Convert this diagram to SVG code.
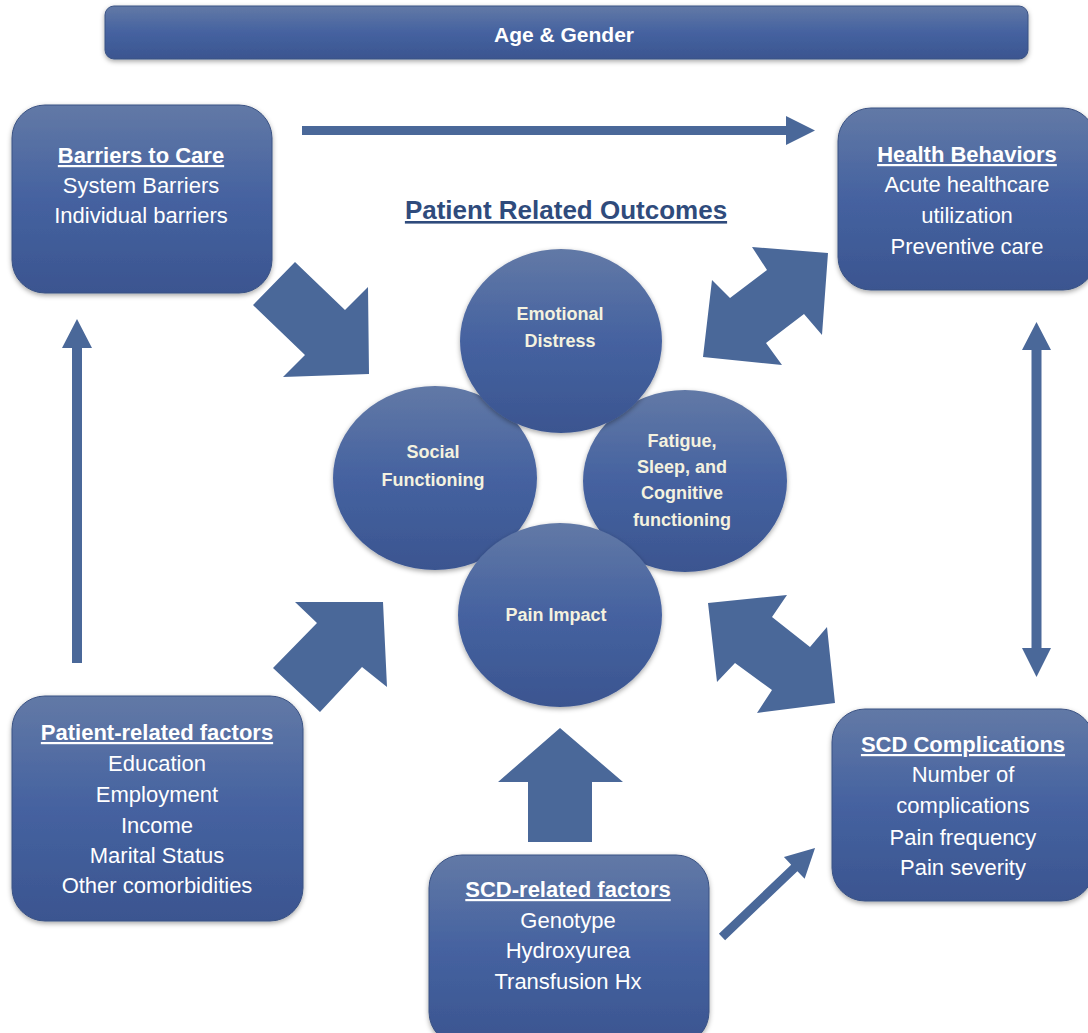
<svg xmlns="http://www.w3.org/2000/svg" width="1088" height="1033" viewBox="0 0 1088 1033">
<defs>
<linearGradient id="gb" x1="0" y1="0" x2="0" y2="1">
<stop offset="0" stop-color="#6279A6"/>
<stop offset="0.5" stop-color="#4562A0"/>
<stop offset="1" stop-color="#3B5590"/>
</linearGradient>
<filter id="sh" x="-20%" y="-20%" width="140%" height="140%">
<feDropShadow dx="0" dy="2" stdDeviation="2.5" flood-color="#000" flood-opacity="0.35"/>
</filter>
<style>
.box{fill:url(#gb);stroke:#3A5283;stroke-width:1;filter:url(#sh)}
.circ{fill:url(#gb);filter:url(#sh)}
.bt{font-family:"Liberation Sans",Arial,sans-serif;font-size:22px;fill:#FFFFFF;text-anchor:middle}
.ttl{font-weight:bold;text-decoration:underline}
.ct{font-family:"Liberation Sans",Arial,sans-serif;font-size:18px;font-weight:bold;fill:#F4F2DF;text-anchor:middle}
.arr{fill:#4A6899}
</style>
</defs>
<rect width="1088" height="1033" fill="#FFFFFF"/>

<g id="age-gender">
<rect class="box" x="105" y="6" width="923" height="53" rx="9"/>
<text class="bt" x="564" y="42" style="font-weight:bold;font-size:21px">Age &amp; Gender</text>
</g>

<g id="connectors">
<polygon class="arr" points="302,126 786,126 786,116 815,130.5 786,145 786,135 302,135"/>
<polygon class="arr" points="72,663 72,348 62,348 77,319 92,348 82,348 82,663"/>
<polygon class="arr" points="1036.5,322 1051,350 1041.5,350 1041.5,648 1051,648 1036.5,677 1022,648 1031.5,648 1031.5,350 1022,350"/>
<polygon class="arr" transform="translate(722,937) rotate(-43.7)" points="0,-4.5 100,-4.5 100,-15 128.7,0 100,15 100,4.5 0,4.5"/>
<polygon class="arr" points="295,262 345,310 368,287 369,374 283,377 305,355 253,305"/>
<polygon class="arr" points="828,253 822,335 804,314 766,343 782,365 703,357 712,280 730,298 767,270 752,247"/>
<polygon class="arr" points="708,603 787,595 772,617 810,647 827,627 835,703 757,713 772,690 735,663 717,682"/>
<polygon class="arr" points="383,602 387,687 362,667 320,712 273,668 317,623 295,602"/>
<polygon class="arr" points="560,728 623,782 592,782 592,842 528,842 528,782 498,782"/>
</g>

<g id="barriers">
<rect class="box" x="12" y="105" width="260" height="188" rx="33"/>
<text class="bt ttl" x="141" y="163">Barriers to Care</text>
<text class="bt" x="141" y="193">System Barriers</text>
<text class="bt" x="141" y="223">Individual barriers</text>
</g>

<g id="health-behaviors">
<rect class="box" x="838" y="108" width="258" height="182" rx="33"/>
<text class="bt ttl" x="967" y="162">Health Behaviors</text>
<text class="bt" x="967" y="192">Acute healthcare</text>
<text class="bt" x="967" y="223">utilization</text>
<text class="bt" x="967" y="254">Preventive care</text>
</g>

<g id="patient-factors">
<rect class="box" x="12" y="696" width="291" height="225" rx="33"/>
<text class="bt ttl" x="157" y="740">Patient-related factors</text>
<text class="bt" x="157" y="771">Education</text>
<text class="bt" x="157" y="802">Employment</text>
<text class="bt" x="157" y="833">Income</text>
<text class="bt" x="157" y="863">Marital Status</text>
<text class="bt" x="157" y="893">Other comorbidities</text>
</g>

<g id="scd-complications">
<rect class="box" x="832" y="709" width="262" height="192" rx="33"/>
<text class="bt ttl" x="963" y="752">SCD Complications</text>
<text class="bt" x="963" y="782">Number of</text>
<text class="bt" x="963" y="813">complications</text>
<text class="bt" x="963" y="845">Pain frequency</text>
<text class="bt" x="963" y="875">Pain severity</text>
</g>

<g id="scd-factors">
<rect class="box" x="429" y="855" width="280" height="190" rx="33"/>
<text class="bt ttl" x="568" y="897">SCD-related factors</text>
<text class="bt" x="568" y="928">Genotype</text>
<text class="bt" x="568" y="958">Hydroxyurea</text>
<text class="bt" x="568" y="989">Transfusion Hx</text>
</g>

<g id="outcomes-title">
<text x="566" y="219" style="font-family:'Liberation Sans',Arial,sans-serif;font-size:26px;font-weight:bold;fill:#2F4B7C;text-anchor:middle;text-decoration:underline">Patient Related Outcomes</text>
</g>

<g id="social-functioning">
<ellipse class="circ" cx="435" cy="478" rx="102" ry="92"/>
<text class="ct" x="433" y="458">Social</text>
<text class="ct" x="433" y="486">Functioning</text>
</g>

<g id="fatigue">
<ellipse class="circ" cx="685" cy="481" rx="102" ry="91"/>
<text class="ct" x="682" y="447">Fatigue,</text>
<text class="ct" x="682" y="473">Sleep, and</text>
<text class="ct" x="682" y="499">Cognitive</text>
<text class="ct" x="682" y="526">functioning</text>
</g>

<g id="emotional-distress">
<ellipse class="circ" cx="561" cy="341" rx="101" ry="92"/>
<text class="ct" x="560" y="320">Emotional</text>
<text class="ct" x="560" y="347">Distress</text>
</g>

<g id="pain-impact">
<ellipse class="circ" cx="560" cy="615" rx="102" ry="92"/>
<text class="ct" x="556" y="621">Pain Impact</text>
</g>
</svg>
